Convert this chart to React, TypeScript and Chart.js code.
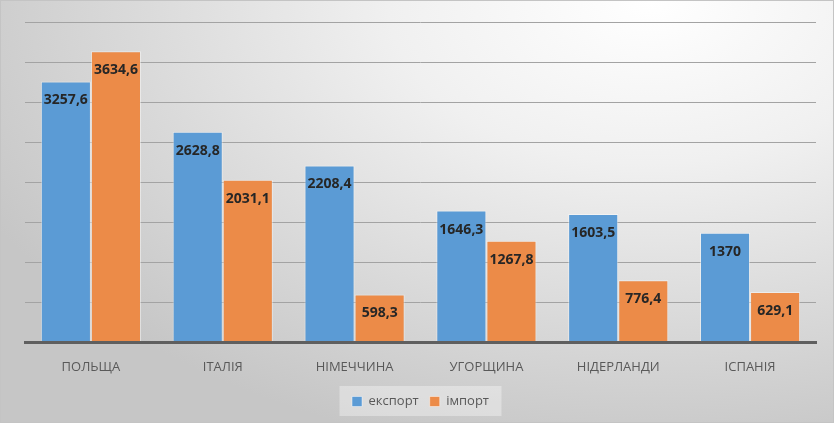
import React, { useEffect, useRef } from "react";
import { Chart, registerables } from "chart.js";

Chart.register(...registerables);

const categories = ["ПОЛЬЩА", "ІТАЛІЯ", "НІМЕЧЧИНА", "УГОРЩИНА", "НІДЕРЛАНДИ", "ІСПАНІЯ"];
const exportValues = [3257.6, 2628.8, 2208.4, 1646.3, 1603.5, 1370];
const importValues = [3634.6, 2031.1, 598.3, 1267.8, 776.4, 629.1];
const seriesNames = ["експорт", "імпорт"];

const fmt = (v: number) => String(v).replace(".", ",");

const labelPlugin = {
  id: "valueLabels",
  afterDatasetsDraw(chart: any) {
    const ctx = chart.ctx;
    ctx.save();
    ctx.font = "bold 14px 'Open Sans', sans-serif";
    ctx.fillStyle = "#262626";
    ctx.textAlign = "center";
    ctx.textBaseline = "middle";
    chart.data.datasets.forEach((ds: any, di: number) => {
      const meta = chart.getDatasetMeta(di);
      meta.data.forEach((bar: any, i: number) => {
        ctx.fillText(fmt(ds.data[i]), bar.x, bar.y + 19);
      });
    });
    ctx.restore();
  },
};

const legendBgPlugin = {
  id: "legendBg",
  beforeDraw(chart: any) {
    const lg = chart.legend;
    if (!lg) return;
    const ctx = chart.ctx;
    ctx.save();
    ctx.fillStyle = "rgba(255,255,255,0.35)";
    const w = 162, h = 30;
    const cx = (chart.chartArea.left + chart.chartArea.right) / 2;
    const cy = lg.top + lg.height / 2;
    ctx.fillRect(cx - w / 2, cy - h / 2, w, h);
    ctx.restore();
  },
};

export default function App() {
  const ref = useRef<HTMLCanvasElement>(null);
  useEffect(() => {
    document.body.style.margin = "0";
    const chart = new Chart(ref.current!, {
      type: "bar",
      data: {
        labels: categories,
        datasets: [
          {
            label: seriesNames[0],
            data: exportValues,
            backgroundColor: "#5B9BD5",
            borderColor: "rgba(255,255,255,0.45)",
            borderWidth: 1,
            categoryPercentage: 0.76,
            barPercentage: 1,
          },
          {
            label: seriesNames[1],
            data: importValues,
            backgroundColor: "#EC8B48",
            borderColor: "rgba(255,255,255,0.45)",
            borderWidth: 1,
            categoryPercentage: 0.76,
            barPercentage: 1,
          },
        ],
      },
      options: {
        animation: false,
        responsive: false,
        layout: { padding: { left: 24, right: 17, top: 21, bottom: 4 } },
        scales: {
          x: {
            grid: { display: false },
            border: { color: "#5f5f5f", width: 3 },
            ticks: {
              color: "#595959",
              font: { family: "'Open Sans', sans-serif", size: 13 },
              padding: 9,
            },
          },
          y: {
            min: 0,
            max: 4000,
            grid: {
              color: (c: any) => (c.tick && c.tick.value === 0 ? "#5f5f5f" : "#a3a3a3"),
              lineWidth: (c: any) => (c.tick && c.tick.value === 0 ? 3 : 1),
              drawTicks: false,
            },
            border: { display: false },
            ticks: { display: false, stepSize: 500 },
          },
        },
        plugins: {
          legend: {
            position: "bottom",
            labels: {
              boxWidth: 10,
              boxHeight: 10,
              color: "#595959",
              font: { family: "'Open Sans', sans-serif", size: 13 },
              padding: 11,
            },
          },
          tooltip: { enabled: false },
        },
      },
      plugins: [labelPlugin, legendBgPlugin],
    });
    return () => chart.destroy();
  }, []);
  return (
    <div
      style={{
        width: 834,
        height: 423,
        boxSizing: "border-box",
        border: "1px solid #c4c4c4",
        background:
          "radial-gradient(ellipse 90% 110% at 78% 0%, #ffffff 0%, #f0f0f0 35%, #d9d9d9 70%, #c6c6c6 100%)",
      }}
    >
      <canvas ref={ref} width={832} height={421} />
    </div>
  );
}
